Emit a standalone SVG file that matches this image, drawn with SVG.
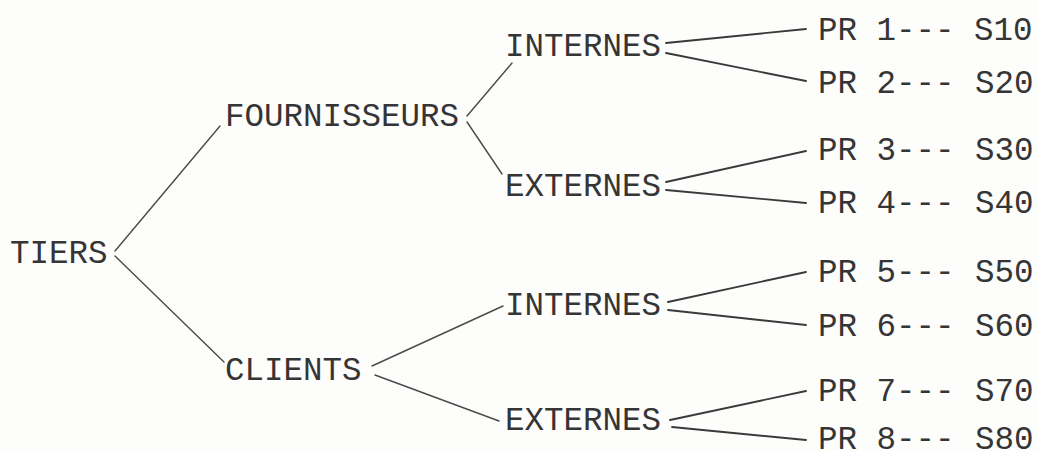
<svg xmlns="http://www.w3.org/2000/svg" width="1038" height="451" viewBox="0 0 1038 451">
  <style>
    .lbl { font-family: "Liberation Mono", "DejaVu Sans Mono", monospace; font-size: 32.5px; fill: #353535; }
    .tree { stroke: #4a4a4a; stroke-width: 1.4; fill: none; stroke-linecap: round; }
    .leaf { stroke: #3a3a3a; stroke-width: 1.9; fill: none; stroke-linecap: round; }
  </style>
  <rect width="1038" height="451" fill="#fdfdfc"/>

  <!-- branches -->
  <g id="connectors">
    <line class="tree" x1="115" y1="251" x2="220" y2="126"/>
    <line class="tree" x1="115" y1="256" x2="224" y2="362"/>
    <line class="tree" x1="467" y1="116" x2="512" y2="63"/>
    <line class="tree" x1="467" y1="122" x2="502" y2="174"/>
    <line class="tree" x1="372" y1="366" x2="503" y2="306"/>
    <line class="tree" x1="375" y1="375" x2="499" y2="421"/>
    <line class="leaf" x1="666" y1="43" x2="806" y2="29"/>
    <line class="leaf" x1="666" y1="53" x2="806" y2="81"/>
    <line class="leaf" x1="666" y1="182" x2="806" y2="151"/>
    <line class="leaf" x1="666" y1="190" x2="806" y2="203"/>
    <line class="leaf" x1="668" y1="302" x2="806" y2="272"/>
    <line class="leaf" x1="668" y1="310" x2="806" y2="325"/>
    <line class="leaf" x1="670" y1="420" x2="806" y2="391"/>
    <line class="leaf" x1="672" y1="427" x2="806" y2="440"/>
  </g>

  <g id="tiers"><text class="lbl" x="10" y="263">TIERS</text></g>
  <g id="fournisseurs"><text class="lbl" x="225" y="126">FOURNISSEURS</text></g>
  <g id="clients"><text class="lbl" x="225" y="380">CLIENTS</text></g>

  <g id="fournisseurs-internes"><text class="lbl" x="505" y="56">INTERNES</text></g>
  <g id="fournisseurs-externes"><text class="lbl" x="505" y="196">EXTERNES</text></g>
  <g id="clients-internes"><text class="lbl" x="505" y="315">INTERNES</text></g>
  <g id="clients-externes"><text class="lbl" x="505" y="430">EXTERNES</text></g>

  <g id="pr1"><text class="lbl" x="818" y="40">PR 1--- S10</text></g>
  <g id="pr2"><text class="lbl" x="818" y="93">PR 2---<tspan x="975">S20</tspan></text></g>
  <g id="pr3"><text class="lbl" x="818" y="160">PR 3---<tspan x="975">S30</tspan></text></g>
  <g id="pr4"><text class="lbl" x="818" y="213">PR 4---<tspan x="975">S40</tspan></text></g>
  <g id="pr5"><text class="lbl" x="818" y="282">PR 5---<tspan x="975">S50</tspan></text></g>
  <g id="pr6"><text class="lbl" x="818" y="336">PR 6---<tspan x="975">S60</tspan></text></g>
  <g id="pr7"><text class="lbl" x="818" y="401">PR 7---<tspan x="975">S70</tspan></text></g>
  <g id="pr8"><text class="lbl" x="818" y="449">PR 8---<tspan x="975">S80</tspan></text></g>
</svg>
